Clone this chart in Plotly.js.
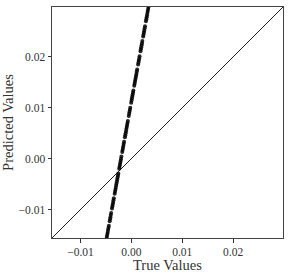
<!DOCTYPE html>
<html>
<head>
<meta charset="utf-8">
<script src="https://cdn.plot.ly/plotly-3.0.1.min.js"></script>
<style>html,body{margin:0;padding:0;background:#fff;}#chart{width:291px;height:273px;}</style>
</head>
<body>
<div id="chart"></div>
<script>
// Predicted vs true values
const trueValues = [
  -0.004935, -0.004862, -0.004790, -0.004717, -0.004645, -0.004572, -0.004500, -0.004427,
  -0.004264, -0.004191, -0.004119, -0.004046, -0.003974,
  -0.003811, -0.003738, -0.003666, -0.003593, -0.003521, -0.003448,
  -0.003285, -0.003212, -0.003140, -0.003067, -0.002995, -0.002922, -0.002850, -0.002777, -0.002705, -0.002632, -0.002560,
  -0.002397, -0.002324, -0.002252, -0.002179, -0.002107, -0.002034, -0.001961,
  -0.001798, -0.001726, -0.001653, -0.001581, -0.001508, -0.001436,
  -0.001273, -0.001200, -0.001127, -0.001055, -0.000982, -0.000910, -0.000837, -0.000765, -0.000692,
  -0.000511, -0.000439, -0.000366, -0.000294, -0.000221,
  -0.000040, 0.000033, 0.000105, 0.000178, 0.000250, 0.000323, 0.000395,
  0.000559, 0.000631, 0.000704, 0.000776, 0.000849, 0.000921, 0.000994, 0.001066, 0.001139,
  0.001320, 0.001393, 0.001465, 0.001538, 0.001610,
  0.001791, 0.001864, 0.001936, 0.002009, 0.002082, 0.002154,
  0.002317, 0.002390, 0.002462, 0.002535, 0.002607, 0.002680,
  0.002861, 0.002934, 0.003006, 0.003079, 0.003151, 0.003224, 0.003296, 0.003369, 0.003441
];
const predictedValues = [
  -0.0160, -0.0156, -0.0152, -0.0148, -0.0144, -0.0140, -0.0136, -0.0132,
  -0.0123, -0.0119, -0.0115, -0.0111, -0.0107,
  -0.0098, -0.0094, -0.0090, -0.0086, -0.0082, -0.0078,
  -0.0069, -0.0065, -0.0061, -0.0057, -0.0053, -0.0049, -0.0045, -0.0041, -0.0037, -0.0033, -0.0029,
  -0.0020, -0.0016, -0.0012, -0.0008, -0.0004, 0.0000, 0.0004,
  0.0013, 0.0017, 0.0021, 0.0025, 0.0029, 0.0033,
  0.0042, 0.0046, 0.0050, 0.0054, 0.0058, 0.0062, 0.0066, 0.0070, 0.0074,
  0.0084, 0.0088, 0.0092, 0.0096, 0.0100,
  0.0110, 0.0114, 0.0118, 0.0122, 0.0126, 0.0130, 0.0134,
  0.0143, 0.0147, 0.0151, 0.0155, 0.0159, 0.0163, 0.0167, 0.0171, 0.0175,
  0.0185, 0.0189, 0.0193, 0.0197, 0.0201,
  0.0211, 0.0215, 0.0219, 0.0223, 0.0227, 0.0231,
  0.0240, 0.0244, 0.0248, 0.0252, 0.0256, 0.0260,
  0.0270, 0.0274, 0.0278, 0.0282, 0.0286, 0.0290, 0.0294, 0.0298, 0.0302
];
const axisRange = [-0.0156, 0.0298];
const xTitle = 'True Values';
const yTitle = 'Predicted Values';

const font = 'Liberation Serif, Times New Roman, serif';
const traces = [
  {
    x: trueValues, y: predictedValues, type: 'scatter', mode: 'markers',
    marker: {color: 'rgba(0,0,0,0.85)', size: 4, line: {width: 0}},
    hoverinfo: 'none', showlegend: false
  },
  {
    x: axisRange, y: axisRange, type: 'scatter', mode: 'lines',
    line: {color: '#000', width: 0.9}, hoverinfo: 'none', showlegend: false
  }
];
const axisCommon = {
  range: axisRange, tick0: 0, dtick: 0.01, tickformat: '.2f',
  showgrid: false, zeroline: false,
  showline: true, mirror: true, linecolor: '#444', linewidth: 1,
  ticks: 'outside', ticklen: 3.5, tickwidth: 0.8, tickcolor: '#000',
  tickfont: {family: font, size: 11.5, color: '#333'}
};
const layout = {
  width: 291, height: 273,
  margin: {l: 52, r: 8, t: 7, b: 35, pad: 0},
  paper_bgcolor: '#fff', plot_bgcolor: '#fff',
  xaxis: Object.assign({}, axisCommon),
  yaxis: Object.assign({}, axisCommon, {
    title: {text: yTitle, font: {family: font, size: 14.5, color: '#333'}, standoff: 4}
  }),
  annotations: [{
    text: xTitle, xref: 'paper', yref: 'paper', x: 0.5, y: -0.115,
    xanchor: 'center', yanchor: 'middle', showarrow: false,
    font: {family: font, size: 14.5, color: '#333'}
  }],
  showlegend: false
};
Plotly.newPlot('chart', traces, layout, {staticPlot: true, displayModeBar: false});
</script>
</body>
</html>
